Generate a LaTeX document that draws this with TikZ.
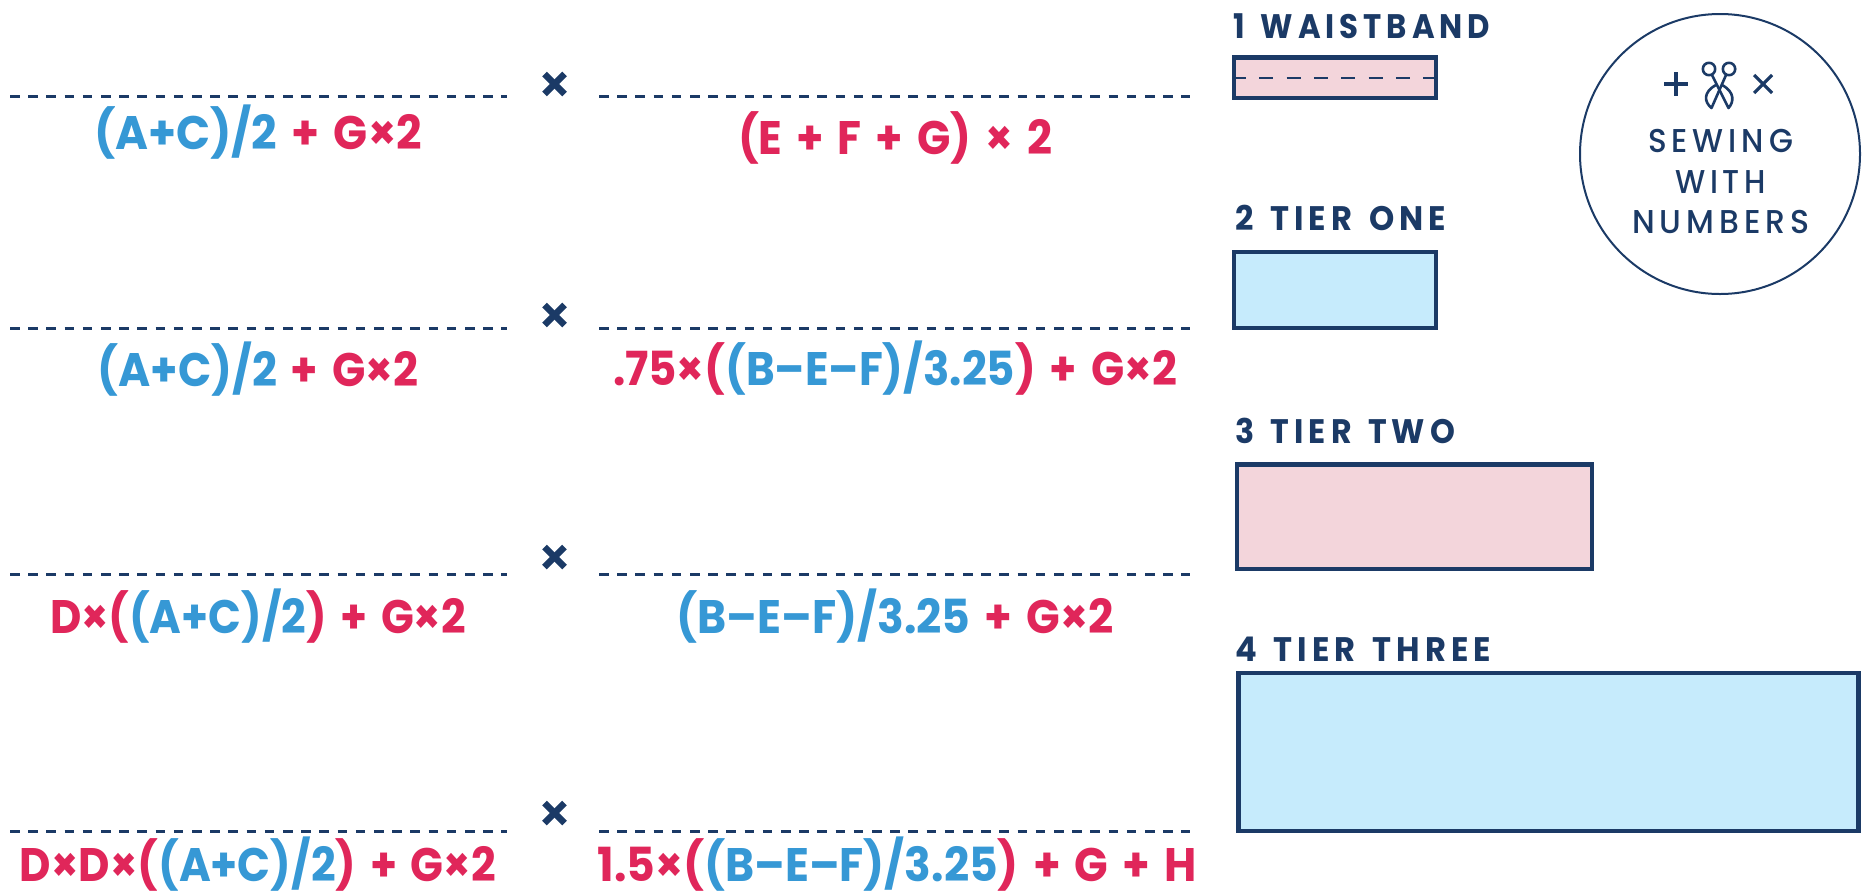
\documentclass[tikz,border=0pt]{standalone}
\usepackage{fontspec}
\usepackage{graphicx}
\setmainfont{Poppins}[WordSpace=1.5]
\newfontfamily\headf[LetterSpace=16,WordSpace=1.4]{Poppins}
\newfontfamily\logof[LetterSpace=16]{Poppins Medium}
\definecolor{navy}{HTML}{1B3A66}
\definecolor{bl}{HTML}{3698D5}
\definecolor{rd}{HTML}{E0265A}
\definecolor{pinkf}{HTML}{F3D5DB}
\definecolor{bluef}{HTML}{C6EBFC}
\newcommand\fitw[2]{\sbox0{#2}\pgfmathsetmacro\rr{#1/\wd0}\scalebox{\rr}[1]{\usebox0}}
\newcommand\B[1]{\textcolor{bl}{#1}}
\tikzset{
  x=1pt,y=-1pt,
  formula/.style={anchor=base,inner sep=0pt,font=\fontsize{47}{47}\selectfont\bfseries,text=rd},
  heading/.style={anchor=base west,inner sep=0pt,font=\fontsize{34}{34}\selectfont\headf\bfseries,text=navy},
  logotext/.style={anchor=base,inner sep=0pt,font=\fontsize{33}{33}\selectfont\logof,text=navy},
  rule/.style={navy,line width=3pt,dash pattern=on 9.6pt off 8.6pt},
  piece/.style={draw=navy,line width=4.8pt},
  mult/.style={navy,line width=6.5pt},
}
\begin{document}
\begin{tikzpicture}
\useasboundingbox (0,0) rectangle (1862,892);
% rules
\foreach \n/\y in {a/96,b/328,c/574,d/831}{
  \coordinate (l\n) at (10,\y); \coordinate (m\n) at (507,\y);
  \coordinate (r\n) at (599,\y); \coordinate (s\n) at (1190,\y);
  \draw[rule] (l\n) -- (m\n);
  \draw[rule] (r\n) -- (s\n);
}
% multiply marks
\foreach \y in {84,315,557,813}{
  \draw[mult] (544.5,\y-10) -- (564.5,\y+10);
  \draw[mult] (564.5,\y-10) -- (544.5,\y+10);
}
% formulas
\node[formula] (f1l) at (258,149) {\fitw{328}{\B{(A+C)/2} + G×2}};
\node[formula] (f1r) at (895,154) {\fitw{314}{(E + F + G) × 2}};
\node[formula] (f2l) at (258,386) {\fitw{321}{\B{(A+C)/2} + G×2}};
\node[formula] (f2r) at (895,385) {\fitw{564}{.75×(\B{(B–E–F)/3.25}) + G×2}};
\node[formula] (f3l) at (258,633) {\fitw{416}{D×(\B{(A+C)/2}) + G×2}};
\node[formula] (f3r) at (895,633) {\fitw{437}{\B{(B–E–F)/3.25} + G×2}};
\node[formula] (f4l) at (258,881) {\fitw{476}{D×D×(\B{(A+C)/2}) + G×2}};
\node[formula] (f4r) at (897,881) {\fitw{599}{1.5×(\B{(B–E–F)/3.25}) + G + H}};
% pieces
\node[heading] (h1) at (1233,38) {\fitw{257}{1 WAISTBAND}};
\draw[piece,fill=pinkf] (1234,57.5) rectangle (1436,98);
\coordinate (da) at (1236,78); \coordinate (db) at (1434,78);
\draw[navy,line width=2pt,dash pattern=on 14pt off 13.3pt,dash phase=4pt] (da) -- (db);
\node[heading] (h2) at (1235,230) {\fitw{211}{2 TIER ONE}};
\draw[piece,fill=bluef] (1234,252) rectangle (1436,328);
\node[heading] (h3) at (1235,443) {\fitw{220}{3 TIER TWO}};
\draw[piece,fill=pinkf] (1237,464.5) rectangle (1592,569);
\node[heading] (h4) at (1235,661) {\fitw{256}{4 TIER THREE}};
\draw[piece,fill=bluef] (1238.5,673) rectangle (1858.5,831);
% logo
\node[circle,draw=navy,line width=2pt,minimum size=280pt,inner sep=0pt] (logo) at (1720,154) {};
\node[logotext] (t1) at (1720.5,152) {\fitw{145}{SEWING}};
\node[logotext] (t2) at (1720.5,193) {\fitw{91}{WITH}};
\node[logotext] (t3) at (1721,233) {\fitw{178}{NUMBERS}};
\draw[navy,line width=4.5pt] (1664,84) -- (1688,84) (1676,72) -- (1676,96);
\draw[navy,line width=3.2pt] (1754,75) -- (1772,93) (1772,75) -- (1754,93);
% scissors
\begin{scope}[navy,line width=2.6pt,line join=round]
\draw (1709,69) circle (6.2pt);
\draw (1729,69) circle (6.2pt);
\draw (1712,75) -- (1728.5,108) .. controls (1734,102) and (1735,92) .. (1722,85);
\draw (1726,75) -- (1711.5,108) .. controls (1704,102) and (1703,92) .. (1716,85);
\end{scope}
\end{tikzpicture}
\end{document}
